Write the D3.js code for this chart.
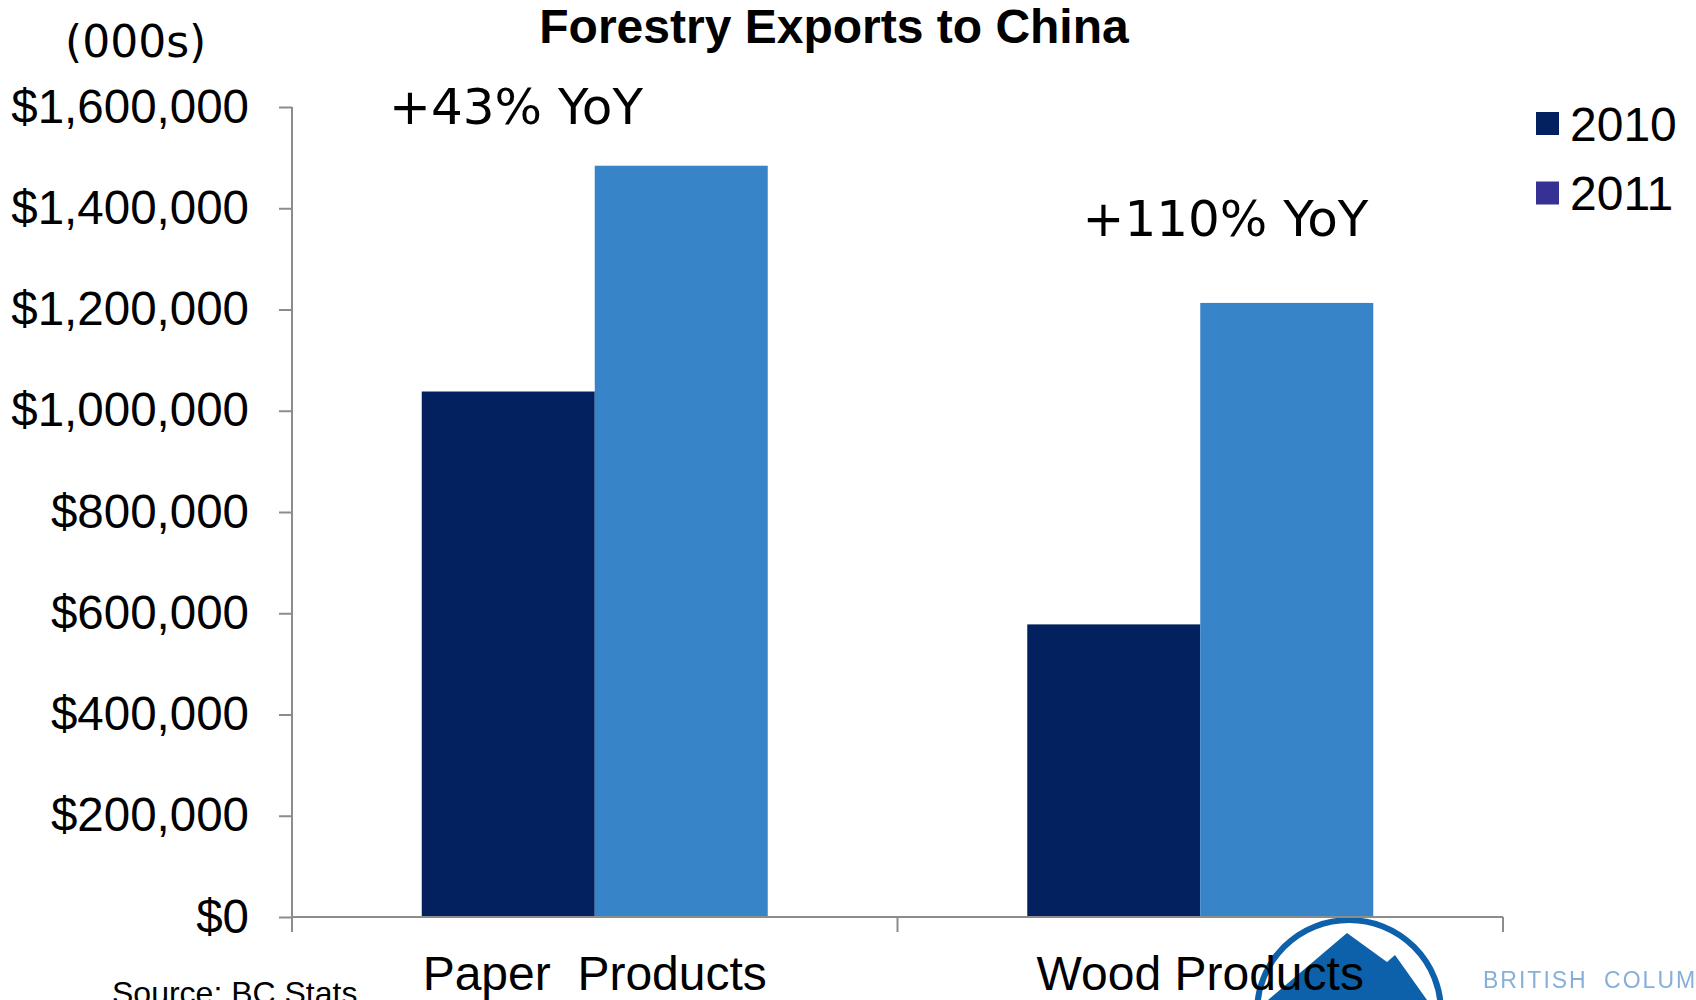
<!DOCTYPE html>
<html>
<head>
<meta charset="utf-8">
<script src="https://cdn.jsdelivr.net/npm/d3@7"></script>
<style>
  html, body { margin: 0; padding: 0; background: #fff; }
  svg { display: block; }
  text { font-family: "Liberation Sans", Arial, sans-serif; fill: #000; }
</style>
</head>
<body>
<svg id="chart" width="1696" height="1000"></svg>
<script>
// Forestry exports to China, thousands of dollars
const categories = ["Paper  Products", "Wood Products"];
const seriesNames = ["2010", "2011"];
const values2010 = [1038000, 578000];
const values2011 = [1484000, 1213000];
const yTicks = [0, 200000, 400000, 600000, 800000, 1000000, 1200000, 1400000, 1600000];
const growthLabels = ["+43% YoY", "+110% YoY"];

const barColors = ["#03215F", "#3784C9"];
const legendColors = ["#03215F", "#363294"];

const svg = d3.select("#chart");
const plot = { left: 292, right: 1503, top: 107, bottom: 917 };
const axisColor = "#8C8C8C";

const defs = svg.append("defs");
defs.append("filter").attr("id", "soft")
  .append("feGaussianBlur").attr("stdDeviation", 0.7);

const x0 = d3.scaleBand().domain(categories).range([plot.left, plot.right]).padding(0);
const bw = x0.bandwidth();
const barW = bw / 3.5;
const x1 = d3.scaleBand().domain(seriesNames).range([0.75 * barW, bw - 0.75 * barW]).padding(0);
const y = d3.scaleLinear().domain([0, 1600000]).range([plot.bottom, plot.top]);

const rows = categories.map((c, i) => ({
  category: c,
  values: [values2010[i], values2011[i]]
}));

// Bars
const groups = svg.append("g").selectAll("g")
  .data(rows).join("g")
  .attr("transform", d => `translate(${x0(d.category)},0)`);

groups.selectAll("rect")
  .data(d => d.values.map((v, j) => ({ series: seriesNames[j], value: v, j })))
  .join("rect")
  .attr("x", d => x1(d.series))
  .attr("width", x1.bandwidth())
  .attr("y", d => y(d.value))
  .attr("height", d => y(0) - y(d.value))
  .attr("fill", d => barColors[d.j]);

// BC logo emblem (sits under the category labels)
const logo = svg.append("g").attr("filter", "url(#soft)");
const lcx = 1349, lcy = 1012, lr = 92;
logo.append("circle").attr("cx", lcx).attr("cy", lcy).attr("r", lr)
  .attr("fill", "none").attr("stroke", "#1160AA").attr("stroke-width", 6);
logo.append("path")
  .attr("d", `M${lcx - 81},1000 L${lcx - 2},933 L${lcx + 38},962 L${lcx + 46},955 L${lcx + 78},1000 Z`)
  .attr("fill", "#1160AA");
logo.append("text")
  .attr("x", 1483).attr("y", 988)
  .style("font-family", "'Liberation Sans', Arial, sans-serif")
  .style("font-size", "23px")
  .style("letter-spacing", "2px")
  .style("word-spacing", "8px")
  .style("fill", "#86B0DA")
  .text("BRITISH COLUMBIA");

// Y axis
const yAxis = d3.axisLeft(y).tickValues(yTicks)
  .tickFormat(v => "$" + d3.format(",")(v))
  .tickSize(13).tickPadding(30);
const gy = svg.append("g").attr("transform", `translate(${plot.left},0)`).call(yAxis);
gy.select(".domain").remove();
gy.selectAll(".tick line").attr("stroke", axisColor).attr("stroke-width", 2);
gy.selectAll(".tick text")
  .style("font-family", "'Liberation Sans', Arial, sans-serif")
  .style("font-size", "47.5px").attr("fill", "#000");
svg.append("line")
  .attr("x1", plot.left).attr("x2", plot.left)
  .attr("y1", plot.top).attr("y2", plot.bottom + 15)
  .attr("stroke", axisColor).attr("stroke-width", 2);

// X axis
svg.append("line")
  .attr("x1", plot.left).attr("x2", plot.right)
  .attr("y1", plot.bottom).attr("y2", plot.bottom)
  .attr("stroke", axisColor).attr("stroke-width", 2);
const boundaries = categories.map(c => x0(c)).concat([plot.right]);
svg.append("g").selectAll("line").data(boundaries).join("line")
  .attr("x1", d => d).attr("x2", d => d)
  .attr("y1", plot.bottom).attr("y2", plot.bottom + 15)
  .attr("stroke", axisColor).attr("stroke-width", 2);

svg.append("g").selectAll("text").data(categories).join("text")
  .attr("x", d => x0(d) + bw / 2)
  .attr("y", 990)
  .attr("text-anchor", "middle")
  .style("font-size", "48px")
  .style("white-space", "pre")
  .text(d => d);

// Growth annotations, placed above each category's bars
const annoOffsetX = [97, 185];
const annoLevel = [1566000, 1345000];
svg.append("g").selectAll("text").data(growthLabels).join("text")
  .attr("x", (d, i) => x0(categories[i]) + annoOffsetX[i])
  .attr("y", (d, i) => y(annoLevel[i]))
  .style("font-family", "'DejaVu Sans', Verdana, sans-serif")
  .style("font-size", "50px")
  .text(d => d);

// Title and unit label
svg.append("text")
  .attr("x", 834).attr("y", 43)
  .attr("text-anchor", "middle")
  .style("font-size", "48px").style("font-weight", "bold")
  .text("Forestry Exports to China");

svg.append("text")
  .attr("x", 65).attr("y", 57)
  .style("font-family", "'DejaVu Sans', Verdana, sans-serif")
  .style("font-size", "44px")
  .text("(000s)");

// Legend
const legend = svg.append("g").selectAll("g").data(seriesNames).join("g")
  .attr("transform", (d, i) => `translate(1536,${112 + i * 69.5})`);
legend.append("rect").attr("width", 23).attr("height", 23)
  .attr("fill", (d, i) => legendColors[i]);
legend.append("text").attr("x", 34).attr("y", 28.5)
  .style("font-size", "48px")
  .text(d => d);

// Source note
svg.append("text")
  .attr("x", 112).attr("y", 1004)
  .style("font-size", "32px")
  .text("Source: BC Stats");
</script>
</body>
</html>
